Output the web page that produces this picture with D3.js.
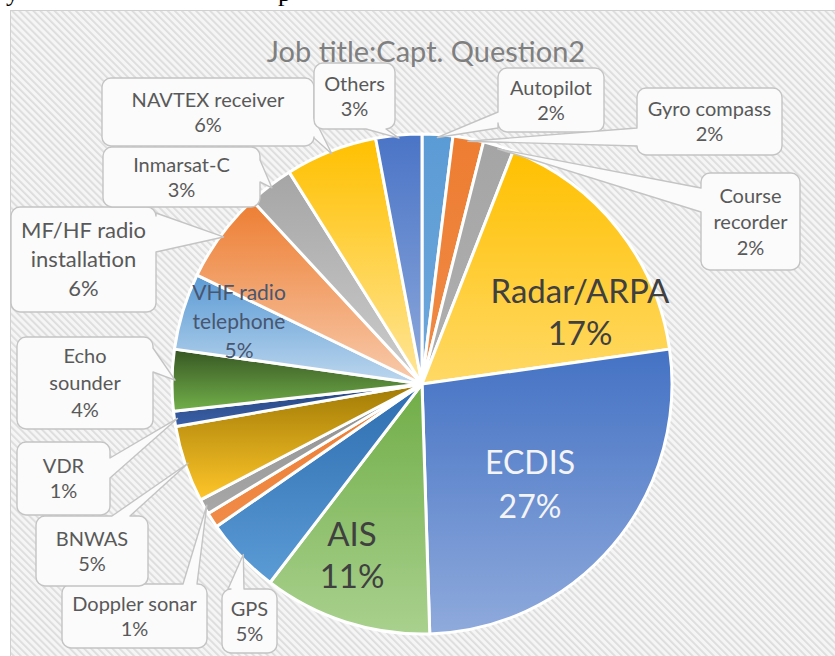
<!DOCTYPE html>
<html>
<head>
<meta charset="utf-8">
<script src="https://cdn.jsdelivr.net/npm/d3@7"></script>
<style>
  html, body { margin: 0; padding: 0; background: #fff; }
  svg { display: block; }
</style>
</head>
<body>
<svg id="chart" width="835" height="656"></svg>
<script>
// ---- data ---------------------------------------------------------------
const title = "Job title:Capt. Question2";

// slices in clockwise order from 12 o'clock
const categories = [
  "Autopilot", "Gyro compass", "Course recorder", "Radar/ARPA", "ECDIS", "AIS",
  "GPS", "Unlabelled", "Doppler sonar", "BNWAS", "VDR", "Echo sounder",
  "VHF radio telephone", "MF/HF radio installation", "Inmarsat-C",
  "NAVTEX receiver", "Others"
];
const shares = [2, 2, 2, 17, 27, 11, 5, 1, 1, 5, 1, 4, 5, 6, 3, 6, 3];

// where a label is split over several lines
const labelLines = {
  "Course recorder": ["Course", "recorder"],
  "Echo sounder": ["Echo", "sounder"],
  "VHF radio telephone": ["VHF radio", "telephone"],
  "MF/HF radio installation": ["MF/HF radio", "installation"],
  "Radar/ARPA": ["Radar/ARPA"]
};

// ---- styling ------------------------------------------------------------
// gradient stops per slice: top colour -> bottom colour
const topColors = [
  "#5B9BD5", "#ED7D31", "#A5A5A5", "#FFC000", "#4472C4", "#70AD47",
  "#2E6DB0", "#ED7D31", "#8E8E8E", "#A07A05", "#24447C", "#375623",
  "#5B9BD5", "#ED7D31", "#A5A5A5", "#FFC000", "#4A74C6"
];
const bottomColors = [
  "#6FA8DC", "#F08B48", "#B0B0B0", "#FFD966", "#8FAADC", "#A9D18E",
  "#5B9BD5", "#F08B48", "#A8A8A8", "#FFC62A", "#3B60A8", "#72B04A",
  "#BDD7EE", "#F8CBAD", "#CDCDCD", "#FFE699", "#8FAADC"
];

const W = 835, H = 656;
const cx = 422, cy = 384, R = 250;

// callout boxes: [x, y, w, h], side that carries the pointer, pointer base span
const callouts = {
  "Autopilot":                {box: [498, 68, 106, 64],  side: "left",   base: [112, 128], fs: 20, lh: 25},
  "Gyro compass":             {box: [637, 88, 145, 67],  side: "left",   base: [128, 146], fs: 20, lh: 25},
  "Course recorder":          {box: [701, 173, 99, 97],  side: "left",   base: [188, 212], fs: 20, lh: 26},
  "Others":                   {box: [314, 63, 81, 66],   side: "bottom", base: [366, 386], fs: 20, lh: 25},
  "NAVTEX receiver":          {box: [102, 78, 212, 68],  side: "right",  base: [118, 138], fs: 20, lh: 25},
  "Inmarsat-C":               {box: [103, 147, 157, 60], side: "right",  base: [160, 182], fs: 20, lh: 25},
  "MF/HF radio installation": {box: [11, 207, 145, 105], side: "right",  base: [213, 252], fs: 22, lh: 29},
  "Echo sounder":             {box: [17, 337, 136, 92],  side: "right",  base: [348, 372], fs: 20, lh: 27},
  "VDR":                      {box: [17, 442, 93, 73],   side: "right",  base: [458, 478], fs: 20, lh: 25},
  "BNWAS":                    {box: [36, 516, 112, 70],  side: "top",    base: [112, 130], fs: 20, lh: 25},
  "Doppler sonar":            {box: [62, 584, 145, 64],  side: "top",    base: [183, 197], fs: 20, lh: 25},
  "GPS":                      {box: [222, 589, 55, 64],  side: "top",    base: [228, 244], fs: 20, lh: 25}
};

// labels drawn inside their slice
const insideLabels = {
  "Radar/ARPA":          {x: 580, y: 303, fs: 33, lh: 42, fill: "#404040"},
  "ECDIS":               {x: 530, y: 474, fs: 32, lh: 44, fill: "#F4F4F4"},
  "AIS":                 {x: 352, y: 546, fs: 33, lh: 42, fill: "#404040"},
  "VHF radio telephone": {x: 239, y: 300, fs: 21, lh: 29, fill: "#485670"}
};

// ---- drawing ------------------------------------------------------------
const svg = d3.select("#chart");
const defs = svg.append("defs");

// diagonal hatch of the chart area
const hatch = defs.append("pattern")
  .attr("id", "hatch")
  .attr("patternUnits", "userSpaceOnUse")
  .attr("width", 5).attr("height", 5)
  .attr("patternTransform", "rotate(-45)");
hatch.append("rect").attr("width", 5).attr("height", 5).attr("fill", "#f5f5f5");
hatch.append("rect").attr("width", 1.8).attr("height", 5).attr("fill", "#dcdcdc");

// tail of the caption line above the figure
svg.append("g")
  .attr("font-family", "'Liberation Serif', serif")
  .attr("font-size", 26)
  .attr("fill", "#000")
  .selectAll("text")
  .data([{t: "y", x: 6}, {t: "p", x: 278}])
  .join("text")
  .attr("x", d => d.x).attr("y", 1)
  .text(d => d.t);

// chart area
svg.append("rect")
  .attr("x", 10.5).attr("y", 10.5)
  .attr("width", W).attr("height", H)
  .attr("fill", "url(#hatch)")
  .attr("stroke", "#d0d0d0").attr("stroke-width", 1);

// title
svg.append("text")
  .attr("x", 426).attr("y", 62)
  .attr("text-anchor", "middle")
  .attr("font-family", "Lato, sans-serif")
  .attr("font-size", 29)
  .attr("fill", "#7f7f7f")
  .text(title);

const data = categories.map((c, i) => ({name: c, v: shares[i], i}));
const pie = d3.pie().sort(null).value(d => d.v);
const arcs = pie(data);
const arc = d3.arc().innerRadius(0).outerRadius(R);

arcs.forEach(a => {
  const g = defs.append("linearGradient")
    .attr("id", "grad" + a.data.i)
    .attr("x1", 0).attr("y1", 0).attr("x2", 0).attr("y2", 1);
  g.append("stop").attr("offset", "0%").attr("stop-color", topColors[a.data.i]);
  g.append("stop").attr("offset", "100%").attr("stop-color", bottomColors[a.data.i]);
});

const pieG = svg.append("g").attr("transform", `translate(${cx},${cy})`);
pieG.selectAll("path")
  .data(arcs)
  .join("path")
  .attr("d", arc)
  .attr("fill", d => `url(#grad${d.data.i})`)
  .attr("stroke", "#ffffff")
  .attr("stroke-width", 3)
  .attr("stroke-linejoin", "round");

// rounded box with a wedge pointer on one side
function calloutPath(b, side, base, px, py) {
  const [x, y, w, h] = b, r = 9;
  const p = d3.path();
  p.moveTo(x + r, y);
  if (side === "top") { p.lineTo(base[0], y); p.lineTo(px, py); p.lineTo(base[1], y); }
  p.lineTo(x + w - r, y);
  p.arcTo(x + w, y, x + w, y + r, r);
  if (side === "right") { p.lineTo(x + w, base[0]); p.lineTo(px, py); p.lineTo(x + w, base[1]); }
  p.lineTo(x + w, y + h - r);
  p.arcTo(x + w, y + h, x + w - r, y + h, r);
  if (side === "bottom") { p.lineTo(base[1], y + h); p.lineTo(px, py); p.lineTo(base[0], y + h); }
  p.lineTo(x + r, y + h);
  p.arcTo(x, y + h, x, y + h - r, r);
  if (side === "left") { p.lineTo(x, base[1]); p.lineTo(px, py); p.lineTo(x, base[0]); }
  p.lineTo(x, y + r);
  p.arcTo(x, y, x + r, y, r);
  p.closePath();
  return p.toString();
}

const linesOf = d => (labelLines[d.data.name] || [d.data.name]).concat([d.data.v + "%"]);

const calloutArcs = arcs.filter(a => callouts[a.data.name]);
const cg = svg.append("g").attr("font-family", "Lato, sans-serif");
const boxes = cg.selectAll("g.callout")
  .data(calloutArcs)
  .join("g").attr("class", "callout");

boxes.append("path")
  .attr("d", a => {
    const c = callouts[a.data.name];
    const mid = (a.startAngle + a.endAngle) / 2;
    const px = cx + (R - 3) * Math.sin(mid);
    const py = cy - (R - 3) * Math.cos(mid);
    return calloutPath(c.box, c.side, c.base, px, py);
  })
  .attr("fill", "#fbfbfb")
  .attr("stroke", "#c4c4c4")
  .attr("stroke-width", 1.4)
  .attr("stroke-linejoin", "round");

boxes.each(function(a) {
  const c = callouts[a.data.name];
  const [x, y, w, h] = c.box;
  const lines = linesOf(a);
  const n = lines.length;
  d3.select(this).selectAll("text")
    .data(lines)
    .join("text")
    .attr("x", x + w / 2)
    .attr("y", (t, k) => y + h / 2 + (k - (n - 1) / 2) * c.lh + 0.36 * c.fs)
    .attr("text-anchor", "middle")
    .attr("font-size", c.fs)
    .attr("fill", "#595959")
    .text(t => t);
});

// labels inside slices
const ig = svg.append("g").attr("font-family", "Lato, sans-serif");
arcs.filter(a => insideLabels[a.data.name]).forEach(a => {
  const L = insideLabels[a.data.name];
  linesOf(a).forEach((t, k) => {
    ig.append("text")
      .attr("x", L.x)
      .attr("y", L.y + k * L.lh)
      .attr("text-anchor", "middle")
      .attr("font-size", L.fs)
      .attr("fill", L.fill)
      .text(t);
  });
});
</script>
</body>
</html>
